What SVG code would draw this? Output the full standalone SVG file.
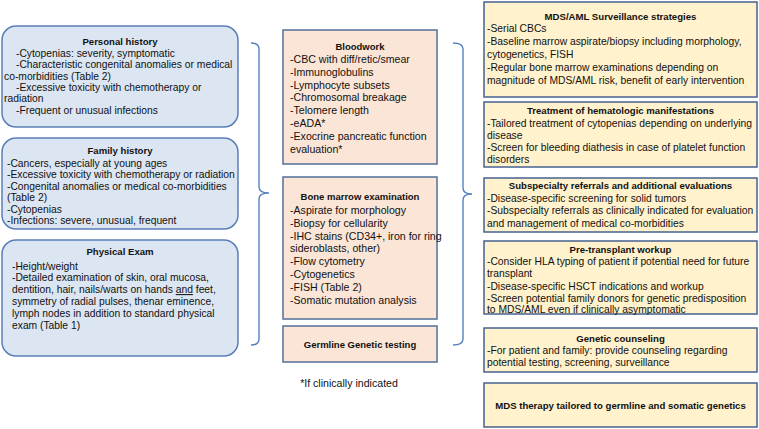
<svg xmlns="http://www.w3.org/2000/svg" width="759" height="429" viewBox="0 0 759 429">
<style>
text{font-family:"Liberation Sans",Arial,sans-serif;font-size:10.3px;fill:#111}
.t{font-weight:bold;text-anchor:middle;font-size:9.6px}
.m{font-size:10.6px}
.t.m{font-size:9.5px}
.c{text-anchor:middle}
.lb{fill:#dce6f2;stroke:#5a7fb8;stroke-width:1.5}
.mb{fill:#fbe5d6;stroke:#54709a;stroke-width:1.5}
.rb{fill:#fff2cc;stroke:#46628f;stroke-width:1.5}
.br{fill:none;stroke:#5580c0;stroke-width:1.4}
</style>
<g id="personal-history">
<rect class="lb" x="2" y="26" width="236" height="101" rx="14"/>
<text class="t" x="120" y="44.5">Personal history</text>
<text x="16" y="56.8">-Cytopenias: severity, symptomatic</text>
<text x="16" y="68.2">-Characteristic congenital anomalies or medical</text>
<text x="4" y="79.6">co-morbidities (Table 2)</text>
<text x="16" y="91">-Excessive toxicity with chemotherapy or</text>
<text x="4" y="102.4">radiation</text>
<text x="16" y="113.8">-Frequent or unusual infections</text>
</g>
<g id="family-history">
<rect class="lb" x="2" y="138" width="236" height="91" rx="14"/>
<text class="t" x="120" y="154.2">Family history</text>
<text x="7" y="166.8">-Cancers, especially at young ages</text>
<text x="7" y="178.3">-Excessive toxicity with chemotherapy or radiation</text>
<text x="7" y="189.8">-Congenital anomalies or medical co-morbidities</text>
<text x="7" y="201.3">(Table 2)</text>
<text x="7" y="212.8">-Cytopenias</text>
<text x="7" y="224.3">-Infections: severe, unusual, frequent</text>
</g>
<g id="physical-exam">
<rect class="lb" x="2" y="240" width="236" height="116" rx="14"/>
<text class="t" x="120" y="254.5">Physical Exam</text>
<text x="12" y="269.5">-Height/weight</text>
<text x="12" y="281.3">-Detailed examination of skin, oral mucosa,</text>
<text x="12" y="293.1">dentition, hair, nails/warts on hands <tspan text-decoration="underline">and</tspan> feet,</text>
<text x="12" y="304.9">symmetry of radial pulses, thenar eminence,</text>
<text x="12" y="316.7">lymph nodes in addition to standard physical</text>
<text x="12" y="328.5">exam (Table 1)</text>
</g>
<g id="connectors">
<path class="br" d="M251,43 Q259,43 259,49 V187 Q259,193 269,193 Q259,193 259,199 V339 Q259,345 251,345"/>
<path class="br" d="M453,43 Q463,43 463,49 V188 Q463,194 472,194 Q463,194 463,200 V339 Q463,345 453,345"/>
</g>
<g id="bloodwork">
<rect class="mb" x="283" y="30" width="154" height="134"/>
<text class="t m" x="360" y="49.7">Bloodwork</text>
<text class="m" x="290" y="63">-CBC with diff/retic/smear</text>
<text class="m" x="290" y="75.8">-Immunoglobulins</text>
<text class="m" x="290" y="88.6">-Lymphocyte subsets</text>
<text class="m" x="290" y="101.4">-Chromosomal breakage</text>
<text class="m" x="290" y="114.2">-Telomere length</text>
<text class="m" x="290" y="127">-eADA*</text>
<text class="m" x="290" y="139.8">-Exocrine pancreatic function</text>
<text class="m" x="290" y="152.6">evaluation*</text>
</g>
<g id="bone-marrow">
<rect class="mb" x="283" y="177" width="154" height="142"/>
<text class="t m" x="360" y="200.4">Bone marrow examination</text>
<text class="m" x="290" y="213.7">-Aspirate for morphology</text>
<text class="m" x="290" y="226.6">-Biopsy for cellularity</text>
<text class="m" x="290" y="239.5">-IHC stains (CD34+, iron for ring</text>
<text class="m" x="290" y="252.4">sideroblasts, other)</text>
<text class="m" x="290" y="265.3">-Flow cytometry</text>
<text class="m" x="290" y="278.2">-Cytogenetics</text>
<text class="m" x="290" y="291.1">-FISH (Table 2)</text>
<text class="m" x="290" y="304">-Somatic mutation analysis</text>
</g>
<g id="germline">
<rect class="mb" x="283" y="326" width="154" height="36"/>
<text class="t m" x="360" y="347.7">Germline Genetic testing</text>
</g>
<text class="m c" x="349" y="387">*If clinically indicated</text>
<g id="surveillance">
<rect class="rb" x="484" y="2" width="273" height="95"/>
<text class="t" x="620.5" y="19.6">MDS/AML Surveillance strategies</text>
<text x="487" y="32.4">-Serial CBCs</text>
<text x="487" y="45.2">-Baseline marrow aspirate/biopsy including morphology,</text>
<text x="487" y="58">cytogenetics, FISH</text>
<text x="487" y="70.8">-Regular bone marrow examinations depending on</text>
<text x="487" y="83.6">magnitude of MDS/AML risk, benefit of early intervention</text>
</g>
<g id="treatment">
<rect class="rb" x="484" y="102" width="273" height="65"/>
<text class="t" x="620.5" y="113.7">Treatment of hematologic manifestations</text>
<text x="487" y="126.9">-Tailored treatment of cytopenias depending on underlying</text>
<text x="487" y="138.8">disease</text>
<text x="487" y="150.9">-Screen for bleeding diathesis in case of platelet function</text>
<text x="487" y="162.8">disorders</text>
</g>
<g id="subspecialty">
<rect class="rb" x="484" y="178" width="273" height="54"/>
<text class="t" x="620.5" y="188.7">Subspecialty referrals and additional evaluations</text>
<text x="487" y="202">-Disease-specific screening for solid tumors</text>
<text x="487" y="214.4">-Subspecialty referrals as clinically indicated for evaluation</text>
<text x="487" y="226.9">and management of medical co-morbidities</text>
</g>
<g id="pre-transplant">
<rect class="rb" x="484" y="241" width="273" height="73"/>
<text class="t" x="620.5" y="252.6">Pre-transplant workup</text>
<text x="487" y="264.9">-Consider HLA typing of patient if potential need for future</text>
<text x="487" y="277.2">transplant</text>
<text x="487" y="289.5">-Disease-specific HSCT indications and workup</text>
<text x="487" y="301.8">-Screen potential family donors for genetic predisposition</text>
<text x="487" y="313">to MDS/AML even if clinically asymptomatic</text>
</g>
<g id="genetic-counseling">
<rect class="rb" x="484" y="328" width="273" height="44"/>
<text class="t" x="620.5" y="341.6">Genetic counseling</text>
<text x="487" y="354">-For patient and family: provide counseling regarding</text>
<text x="487" y="366.4">potential testing, screening, surveillance</text>
</g>
<g id="mds-therapy">
<rect class="rb" x="484" y="383" width="273" height="44"/>
<text class="t" x="620.5" y="409">MDS therapy tailored to germline and somatic genetics</text>
</g>
</svg>
